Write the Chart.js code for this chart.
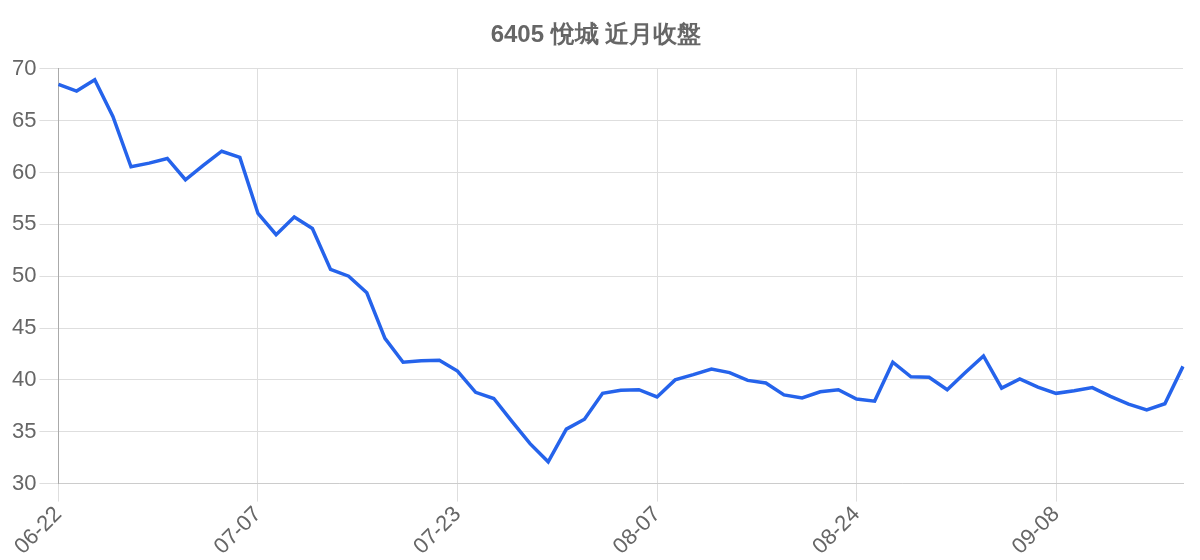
<!DOCTYPE html>
<html>
<head>
<meta charset="utf-8">
<title>6405 悅城 近月收盤</title>
<script src="https://cdn.jsdelivr.net/npm/chart.js@4"></script>
<style>
  html, body { margin: 0; padding: 0; background: #fff; }
  #wrap { width: 1200px; height: 560px; }
</style>
</head>
<body>
<div id="wrap"><canvas id="chart"></canvas></div>
<script>
//Dates (x axis)
const dates = [
  "06-22", "06-23", "06-24", "06-27", "06-28", "06-29", "06-30", "07-01", "07-04", "07-05",
  "07-06", "07-07", "07-08", "07-11", "07-12", "07-13", "07-14", "07-15", "07-19", "07-20",
  "07-21", "07-22", "07-23", "07-25", "07-26", "07-27", "07-28", "07-29", "08-01", "08-02",
  "08-03", "08-04", "08-05", "08-07", "08-08", "08-09", "08-10", "08-11", "08-12", "08-15",
  "08-16", "08-18", "08-19", "08-23", "08-24", "08-25", "08-26", "08-29", "08-30", "08-31",
  "09-01", "09-02", "09-05", "09-06", "09-07", "09-08", "09-12", "09-13", "09-14", "09-15",
  "09-16", "09-19", "09-20"
];
//Closing prices
const closes = [
  68.5, 67.85, 68.95, 65.4, 60.55, 60.9, 61.35, 59.3, 60.7, 62.05,
  61.45, 56.05, 54.0, 55.7, 54.6, 50.65, 50.0, 48.4, 44.0, 41.7,
  41.85, 41.9, 40.85, 38.8, 38.2, 36.0, 33.85, 32.1, 35.25, 36.2,
  38.7, 39.0, 39.05, 38.35, 40.0, 40.5, 41.05, 40.7, 39.95, 39.7,
  38.55, 38.25, 38.85, 39.05, 38.15, 37.95, 41.7, 40.3, 40.25, 39.05,
  40.7, 42.3, 39.2, 40.1, 39.3, 38.7, 38.95, 39.25, 38.4, 37.65,
  37.1, 37.7, 41.3
];
//Only every 11th date gets a label and a grid line
const labelEvery = 11;

const ctx = document.getElementById("chart");
let myChart = new Chart(ctx, {
  type: "line",
  data: {
    labels: dates,
    datasets: [
      {
        data: closes,
        borderColor: "#2563eb",
        borderWidth: 3.5,
        pointRadius: 0,
        tension: 0,
        fill: false,
      },
    ],
  },
  options: {
    responsive: true,
    maintainAspectRatio: false,
    animation: false,
    layout: { padding: { left: 9, right: 17, top: 0, bottom: 0 } },
    plugins: {
      legend: { display: false },
      tooltip: { enabled: false },
      title: {
        display: true,
        text: "6405 悅城 近月收盤",
        color: "#666",
        font: { size: 24, weight: "bold" },
        padding: { top: 21, bottom: 19 },
      },
    },
    scales: {
      x: {
        afterBuildTicks: (axis) => {
          axis.ticks = axis.ticks.filter((t) => t.value % labelEvery === 0);
        },
        ticks: {
          autoSkip: false,
          minRotation: 45,
          maxRotation: 45,
          color: "#666",
          font: { size: 22 },
          padding: 0,
        },
        grid: { color: "#dedede", tickLength: 18 },
        border: { color: "#cccccc" },
      },
      y: {
        min: 30,
        max: 70,
        ticks: { stepSize: 5, color: "#666", font: { size: 22 }, padding: 3 },
        grid: { color: "#dedede", tickLength: 19 },
        border: { color: "#aaaaaa" },
      },
    },
  },
});
</script>
</body>
</html>
